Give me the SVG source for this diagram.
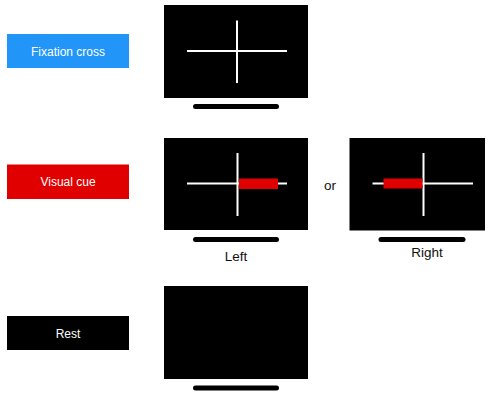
<svg xmlns="http://www.w3.org/2000/svg" width="493" height="414" viewBox="0 0 493 414">
<style>
.lbl{font-family:"Liberation Sans",Arial,sans-serif;font-size:12px;fill:#fff;text-anchor:middle}
.cap{font-family:"Liberation Sans",Arial,sans-serif;font-size:13.5px;fill:#111;text-anchor:middle}
.scr{fill:#000}
.ln{stroke:#fff;stroke-width:2;fill:none}
.cue{fill:#e00000}
.stand{stroke:#000;stroke-width:5;stroke-linecap:round}
</style>
<rect width="493" height="414" fill="#fff"/>
<g id="label-fixation"><rect x="7" y="34" width="122" height="34" fill="#2196f8"/><text class="lbl" x="68" y="55.5">Fixation cross</text></g>
<g id="label-visual-cue"><rect x="7" y="164.5" width="122" height="34.5" fill="#e00000"/><text class="lbl" x="68" y="186">Visual cue</text></g>
<g id="label-rest"><rect x="7" y="316" width="122" height="34" fill="#000"/><text class="lbl" x="68" y="337.5">Rest</text></g>
<g id="screen-fixation">
<rect class="scr" x="164" y="5" width="144" height="93"/>
<line class="ln" x1="187" y1="51" x2="287" y2="51"/>
<line class="ln" x1="237" y1="20.5" x2="237" y2="83"/>
<line class="stand" x1="195.5" y1="106.5" x2="276.5" y2="106.5"/>
</g>
<g id="screen-left">
<rect class="scr" x="164" y="138" width="144" height="92"/>
<line class="ln" x1="187" y1="183.5" x2="287" y2="183.5"/>
<line class="ln" x1="237.5" y1="153" x2="237.5" y2="216"/>
<rect class="cue" x="239" y="178.5" width="39" height="10.5"/>
<line class="stand" x1="195.5" y1="239.5" x2="276.5" y2="239.5"/>
<text class="cap" x="236" y="261">Left</text>
</g>
<text class="cap" x="330" y="190">or</text>
<g id="screen-right">
<rect class="scr" x="349.5" y="138" width="135.5" height="92.5"/>
<line class="ln" x1="372.5" y1="183.5" x2="473" y2="183.5"/>
<line class="ln" x1="423.5" y1="153" x2="423.5" y2="216"/>
<rect class="cue" x="383.5" y="178.5" width="39" height="10"/>
<line class="stand" x1="381" y1="239.5" x2="463" y2="239.5"/>
<text class="cap" x="427" y="257">Right</text>
</g>
<g id="screen-rest">
<rect class="scr" x="164" y="286" width="144" height="93"/>
<line class="stand" x1="195.5" y1="388" x2="276.5" y2="388"/>
</g>
<g id="connectors"/>
</svg>
